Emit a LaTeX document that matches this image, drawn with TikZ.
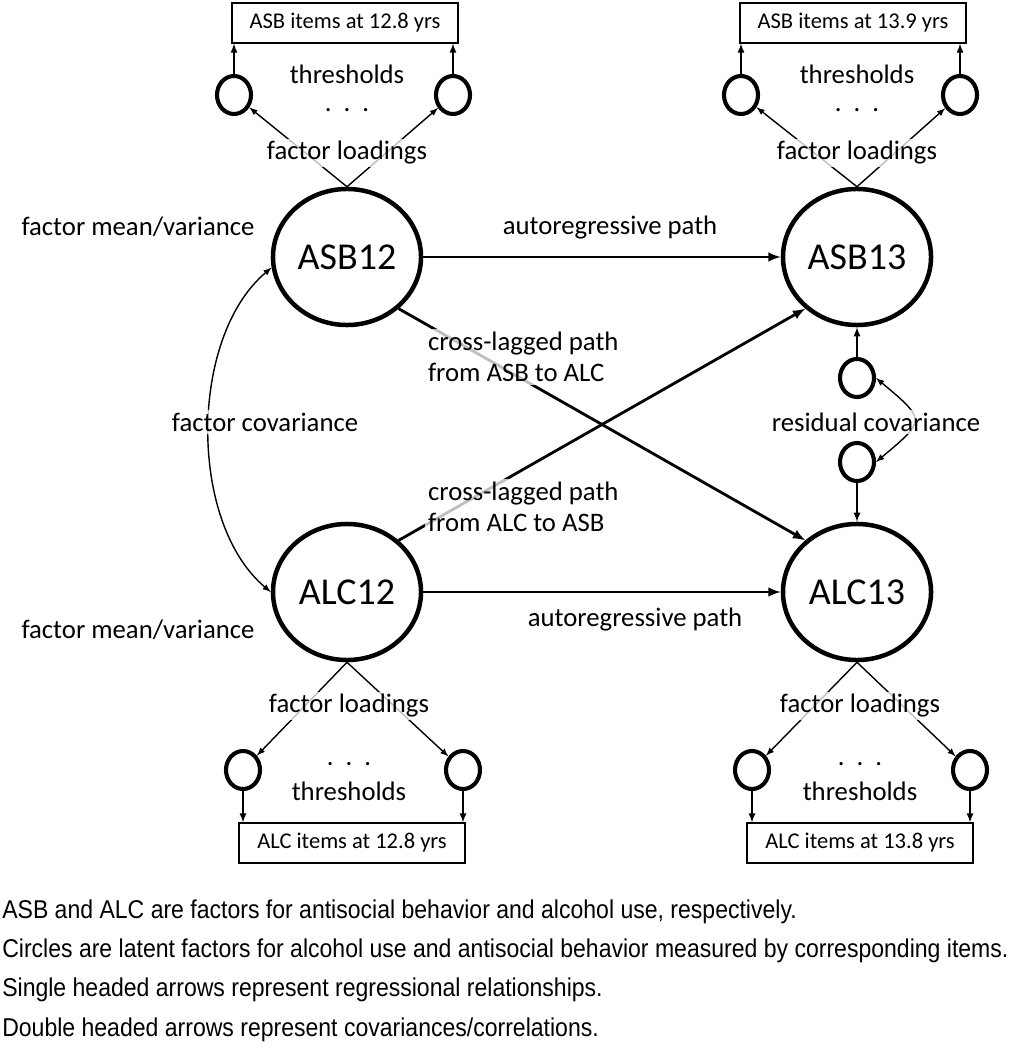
\documentclass[tikz,border=0pt]{standalone}
\usepackage{fontspec}
\setmainfont{Carlito}
\newfontfamily\notefont[FakeStretch=0.895]{Liberation Sans}
\usetikzlibrary{arrows,shapes.geometric}

\begin{document}
\begin{tikzpicture}[x=0.025cm,y=0.025cm,
  factor/.style={ellipse,draw,line width=3.2pt,minimum width=3.7cm,minimum height=3.4cm,inner sep=0pt,font=\fontsize{27}{30}\selectfont},
  item/.style={ellipse,draw,line width=2.9pt,minimum width=0.85cm,minimum height=0.95cm,inner sep=0pt},
  itembox/.style={draw,line width=0.9pt,minimum width=5.65cm,minimum height=1cm,inner sep=0pt,font=\fontsize{16}{18}\selectfont},
  lbl/.style={font=\fontsize{19}{22}\selectfont,inner sep=2pt},
  dots/.style={lbl,inner sep=0pt},
  veil/.style={lbl,fill=white,fill opacity=0.75,text opacity=1},
  note/.style={anchor=west,inner sep=0pt,font=\notefont\fontsize{18.3}{20}\selectfont},
  regpath/.style={-latex,line width=2pt},
  load/.style={-latex,line width=1pt},
  thr/.style={-latex,line width=1.2pt},
  cov/.style={latex-latex,line width=1pt}]
\useasboundingbox (0,0) rectangle (1025,-1050);

% latent factors
\node[factor] (ASB12) at (347,-257) {ASB12};
\node[factor] (ASB13) at (857,-257) {ASB13};
\node[factor] (ALC12) at (347,-592) {ALC12};
\node[factor] (ALC13) at (857,-592) {ALC13};

% item boxes
\node[itembox] (asbbox12) at (345,-23) {ASB items at 12.8 yrs};
\node[itembox] (asbbox13) at (853,-23) {ASB items at 13.9 yrs};
\node[itembox] (alcbox12) at (352,-843) {ALC items at 12.8 yrs};
\node[itembox] (alcbox13) at (860,-843) {ALC items at 13.8 yrs};

% small circles
\node[item] (asb12a) at (234,-95) {};
\node[item] (asb12b) at (453,-95) {};
\node[item] (asb13a) at (741,-95) {};
\node[item] (asb13b) at (960,-95) {};
\node[item] (alc12a) at (243,-770) {};
\node[item] (alc12b) at (463,-770) {};
\node[item] (alc13a) at (752,-770) {};
\node[item] (alc13b) at (970,-770) {};
\node[item] (res13a) at (857,-378) {};
\node[item] (res13b) at (857,-462) {};

% loadings and thresholds
\foreach \f/\i/\b in {ASB12/asb12a/asbbox12, ASB12/asb12b/asbbox12, ASB13/asb13a/asbbox13, ASB13/asb13b/asbbox13} {
  \draw[load] (\f.north) -- (\i);
  \draw[thr] (\i) -- (\i |- \b.south);
}
\foreach \f/\i/\b in {ALC12/alc12a/alcbox12, ALC12/alc12b/alcbox12, ALC13/alc13a/alcbox13, ALC13/alc13b/alcbox13} {
  \draw[load] (\f.south) -- (\i);
  \draw[thr] (\i) -- (\i |- \b.north);
}

% paths
\draw[regpath] (ASB12.east) -- (ASB13.west);
\draw[regpath] (ALC12.east) -- (ALC13.west);
\draw[regpath] (ASB12.-45) -- (ALC13.135);
\draw[regpath] (ALC12.45) -- (ASB13.-135);
\draw[thr] (res13a) -- (ASB13);
\draw[thr] (res13b) -- (ALC13);
\draw[cov] (ASB12.188) to[out=220,in=140,looseness=0.85] (ALC12.180);
\draw[cov] (res13a.east) to[out=-40,in=40,looseness=2] (res13b.east);

% labels
\node[dots] (thr1) at (347,-74) {thresholds};
\node[dots] (dots1) at (347,-110) {.\hskip0.45em.\hskip0.45em.};
\node[veil] (ld1) at (347,-153) {factor loadings};
\node[dots] (thr2) at (857,-74) {thresholds};
\node[dots] (dots2) at (857,-110) {.\hskip0.45em.\hskip0.45em.};
\node[veil] (ld2) at (857,-153) {factor loadings};
\node[veil] (ld3) at (349,-706) {factor loadings};
\node[dots] (dots3) at (349,-764) {.\hskip0.45em.\hskip0.45em.};
\node[dots] (thr3) at (349,-791) {thresholds};
\node[veil] (ld4) at (860,-706) {factor loadings};
\node[dots] (dots4) at (860,-764) {.\hskip0.45em.\hskip0.45em.};
\node[dots] (thr4) at (860,-791) {thresholds};
\node[lbl] (mv1) at (138,-227) {factor mean/variance};
\node[lbl] (mv2) at (138,-630) {factor mean/variance};
\node[lbl] (ar1) at (610,-228) {autoregressive path};
\node[lbl] (ar2) at (635,-620) {autoregressive path};
\node[veil,anchor=west,align=left] (cl1) at (425,-357) {cross-lagged path\\from ASB to ALC};
\node[veil,anchor=west,align=left] (cl2) at (425,-507) {cross-lagged path\\from ALC to ASB};
\node[veil] (fcov) at (265,-422) {factor covariance};
\node[veil] (rcov) at (876,-422) {residual covariance};

% notes
\node[note] (n1) at (2,-912) {ASB and ALC are factors for antisocial behavior and alcohol use, respectively.};
\node[note] (n2) at (2,-951) {Circles are latent factors for alcohol use and antisocial behavior measured by corresponding items.};
\node[note] (n3) at (2,-990) {Single headed arrows represent regressional relationships.};
\node[note] (n4) at (2,-1030) {Double headed arrows represent covariances/correlations.};
\end{tikzpicture}
\end{document}
